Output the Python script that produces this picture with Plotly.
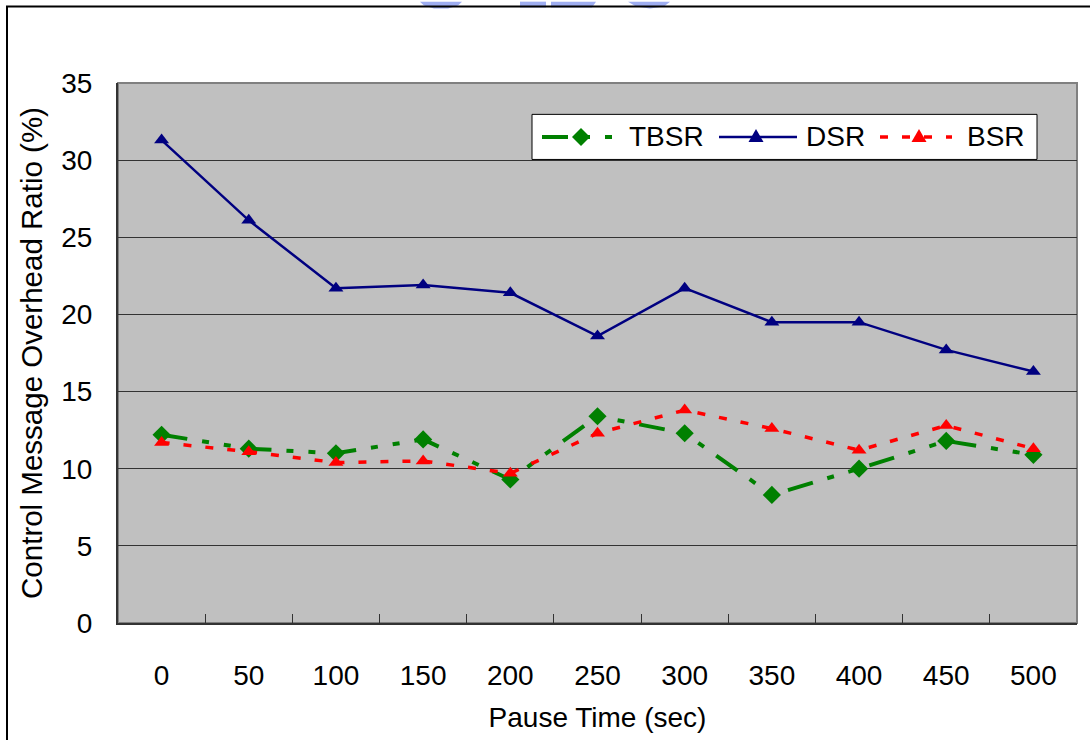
import plotly.graph_objects as go

# Pause time categories (sec)
pause_time = ["0", "50", "100", "150", "200", "250", "300", "350", "400", "450", "500"]

# Control message overhead ratio (%) per protocol
tbsr = [12.2, 11.3, 11.0, 11.9, 9.3, 13.4, 12.3, 8.3, 10.0, 11.8, 10.9]
dsr = [31.3, 26.1, 21.7, 21.9, 21.4, 18.6, 21.7, 19.5, 19.5, 17.7, 16.3]
bsr = [11.7, 11.1, 10.4, 10.5, 9.7, 12.3, 13.8, 12.6, 11.2, 12.8, 11.3]

y_ticks = [0, 5, 10, 15, 20, 25, 30, 35]

FONT = "Liberation Sans, Arial, sans-serif"

# plot area in pixels (left, top, width, height)
PL, PT, PW, PH = 118, 83, 959, 551


def px_x(x):
    return (x - PL) / PW


def px_y(y):
    return 1 + (PT - y) / PH


styles = {
    "TBSR": dict(color="#008000", width=4, dash="26px,15px,7px,15px,7px,15px",
                 symbol="diamond", size=14),
    "DSR": dict(color="#000080", width=2.5, dash="solid",
                symbol="triangle-up", size=13),
    "BSR": dict(color="#FF0000", width=3.5, dash="8px,14px",
                symbol="triangle-up", size=13),
}
series = {"TBSR": tbsr, "DSR": dsr, "BSR": bsr}

fig = go.Figure()
for name, values in series.items():
    st = styles[name]
    fig.add_trace(go.Scatter(
        x=pause_time, y=values, name=name, mode="lines+markers",
        line=dict(color=st["color"], width=st["width"], dash=st["dash"]),
        marker=dict(symbol=st["symbol"], size=st["size"], color=st["color"]),
        showlegend=False,
    ))

# plot-area frame (top / right edges in grey)
fig.add_shape(type="rect", xref="paper", yref="paper", x0=0, y0=0, x1=1, y1=1,
              line=dict(color="#808080", width=2), layer="below")

# faint logo fragments along the top edge of the page
LOGO = "#93A4F0"
for pts in (
    [(420, 0), (462, 0), (458, 4), (448, 7), (434, 7), (424, 4)],
    [(520, 0), (546, 0), (546, 6), (520, 6)],
    [(551, 0), (596, 0), (592, 6), (551, 6)],
    [(628, 0), (670, 0), (664, 5), (650, 7), (636, 5)],
):
    path = "M " + " L ".join(f"{px_x(x):.5f},{px_y(y):.5f}" for x, y in pts) + " Z"
    fig.add_shape(type="path", xref="paper", yref="paper", path=path,
                  fillcolor=LOGO, line=dict(width=0), opacity=0.9)

# outer chart border
fig.add_shape(type="rect", xref="paper", yref="paper",
              x0=px_x(7), x1=px_x(1100), y0=px_y(760), y1=px_y(5),
              line=dict(color="#000000", width=2))

# legend box with line/marker keys
fig.add_shape(type="rect", xref="paper", yref="paper",
              x0=px_x(532), x1=px_x(1037), y0=px_y(161), y1=px_y(115),
              line=dict(color="#000000", width=1), fillcolor="white")

LEG_Y = px_y(138)
legend_keys = [
    # name, key start, key end, marker centre, text left
    ("TBSR", 542, 612, 581, 627),
    ("DSR", 719, 797, 756, 804),
    ("BSR", 880, 952, 919, 965),
]
marker_paths = {
    "diamond": "M -9,0 L 0,9 L 9,0 L 0,-9 Z",
    "triangle-up": "M -7.5,-5 L 7.5,-5 L 0,8 Z",
}
for name, x0, x1, xm, xt in legend_keys:
    st = styles[name]
    fig.add_shape(type="line", xref="paper", yref="paper",
                  x0=px_x(x0), x1=px_x(x1), y0=LEG_Y, y1=LEG_Y,
                  line=dict(color=st["color"], width=st["width"], dash=st["dash"]))
    fig.add_shape(type="path", xref="paper", yref="paper",
                  xsizemode="pixel", ysizemode="pixel",
                  xanchor=px_x(xm), yanchor=LEG_Y,
                  path=marker_paths[st["symbol"]],
                  fillcolor=st["color"], line=dict(color=st["color"], width=0))
    fig.add_annotation(xref="paper", yref="paper", x=px_x(xt), y=LEG_Y,
                       xanchor="left", yanchor="middle", text=name,
                       showarrow=False, font=dict(family=FONT, size=28))

fig.update_layout(
    width=1090, height=740,
    margin=dict(l=PL, r=1090 - PL - PW, t=PT, b=740 - PT - PH),
    paper_bgcolor="white",
    plot_bgcolor="#C0C0C0",
    font=dict(family=FONT, size=28, color="#000000"),
    showlegend=False,
    xaxis=dict(
        type="category", categoryorder="array", categoryarray=pause_time,
        range=[-0.5, len(pause_time) - 0.5],
        tickson="boundaries", ticks="inside", ticklen=9, tickcolor="#333333",
        showline=True, linecolor="#333333", linewidth=2,
        showgrid=False, zeroline=False,
        ticklabelstandoff=26,
        title=dict(text="Pause Time (sec)", standoff=18, font=dict(size=28)),
    ),
    yaxis=dict(
        range=[0, 35], tickvals=y_ticks, ticks="inside", ticklen=9,
        tickcolor="#333333",
        showline=True, linecolor="#333333", linewidth=2,
        showgrid=True, gridcolor="#333333", gridwidth=1, zeroline=False,
        ticklabelstandoff=18,
        title=dict(text="Control Message Overhead Ratio (%)", standoff=10,
                   font=dict(size=29.5)),
    ),
)

fig.write_html("out.html")
